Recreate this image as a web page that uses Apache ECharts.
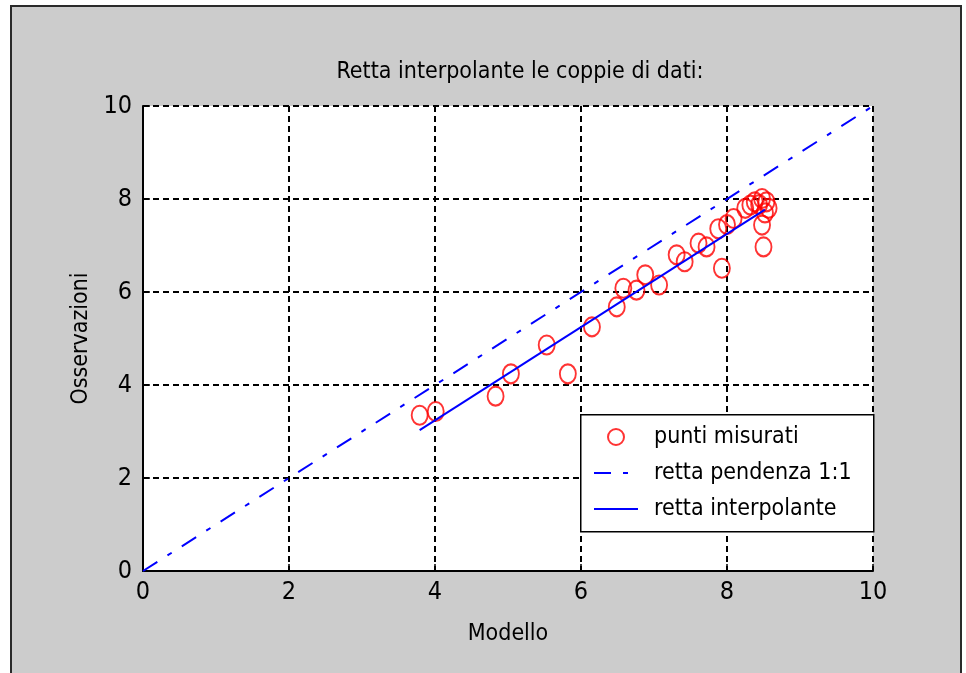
<!DOCTYPE html>
<html>
<head>
<meta charset="utf-8">
<script src="https://cdn.jsdelivr.net/npm/echarts@6/dist/echarts.min.js"></script>
<style>
  html, body { margin: 0; padding: 0; background: #ffffff; }
  #panel {
    position: absolute; left: 10px; top: 5px; width: 952px; height: 668px;
    background: #cccccc; border: 2px solid #2a2a2a; border-bottom: none;
    box-sizing: border-box;
  }
  #chart { position: absolute; left: 0; top: 0; width: 966px; height: 673px; }
</style>
</head>
<body>
<div id="panel"></div>
<div id="chart"></div>
<script>
// Measured pairs: model prediction vs. observation
const modelX = [3.79, 4.01, 4.83, 5.04, 5.53, 5.82, 6.15, 6.49, 6.58, 6.76,
                6.88, 7.07, 7.31, 7.42, 7.61, 7.72, 7.88, 7.93, 8.00, 8.09,
                8.25, 8.32, 8.38, 8.44, 8.48, 8.54, 8.57, 8.52, 8.48, 8.50];
const obsY   = [3.35, 3.43, 3.76, 4.24, 4.86, 4.24, 5.25, 5.68, 6.08, 6.04,
                6.37, 6.15, 6.80, 6.65, 7.05, 6.97, 7.36, 6.51, 7.45, 7.58,
                7.80, 7.87, 7.94, 7.88, 8.01, 7.94, 7.80, 7.70, 7.44, 6.97];

// Reference line with slope 1:1
const unitLineX = [0, 10];
const unitLineY = [0, 10];

// Least-squares line through the pairs (end points)
const fitX = [3.79, 8.52];
const fitY = [3.03, 7.77];

// Axis ticks (same on both axes)
const axisTicks = [0, 2, 4, 6, 8, 10];

const seriesNames = ['punti misurati', 'retta pendenza 1:1', 'retta interpolante'];
const titleText = 'Retta interpolante le coppie di dati:';

const FONT = "'Liberation Sans Narrow', 'DejaVu Sans Condensed', 'Liberation Sans', sans-serif";
const FS = 23;
const TICK_FS = 25;
const BLUE = '#0000ff';
const RED = '#ff0000';

const zip = (xs, ys) => xs.map((x, i) => [x, ys[i]]);

function valueAxis(name, nameGap, labelMargin) {
  return {
    type: 'value',
    min: axisTicks[0],
    max: axisTicks[axisTicks.length - 1],
    interval: axisTicks[1] - axisTicks[0],
    name: name,
    nameLocation: 'middle',
    nameGap: nameGap,
    nameTextStyle: { fontFamily: FONT, fontSize: FS, color: '#000' },
    axisLine: { show: true, onZero: false, lineStyle: { color: '#000', width: 2 } },
    axisTick: { show: true, inside: true, length: 7, lineStyle: { color: '#000', width: 1.5 } },
    axisLabel: { fontFamily: FONT, fontSize: TICK_FS, color: '#000', margin: labelMargin },
    splitLine: { show: true, lineStyle: { color: '#000', width: 2, type: [6, 4] } }
  };
}

const chart = echarts.init(document.getElementById('chart'), null, { renderer: 'canvas' });

chart.setOption({
  backgroundColor: 'transparent',
  animation: false,
  title: {
    text: titleText,
    left: 520,
    top: 61,
    padding: 0,
    textAlign: 'center',
    textStyle: { fontFamily: FONT, fontSize: FS, fontWeight: 'normal', color: '#000' }
  },
  grid: {
    left: 143, top: 106, right: 93, bottom: 102,
    show: true, backgroundColor: '#ffffff', borderWidth: 0
  },
  xAxis: valueAxis('Modello', 52, 9),
  yAxis: valueAxis('Osservazioni', 50, 11),
  legend: {
    orient: 'vertical',
    left: 593,
    top: 423,
    padding: 0,
    itemWidth: 44,
    itemHeight: 16,
    itemGap: 8,
    data: [
      { name: seriesNames[0] },
      { name: seriesNames[1], itemStyle: { opacity: 0 } },
      { name: seriesNames[2], itemStyle: { opacity: 0 } }
    ],
    textStyle: { fontFamily: FONT, fontSize: FS, lineHeight: 28, color: '#000', padding: [0, 0, 0, 11] },
    z: 10
  },
  graphic: [{
    type: 'rect',
    left: 580, top: 414, z: 8,
    shape: { width: 293, height: 117 },
    style: { fill: '#ffffff', stroke: '#000', lineWidth: 1.5 }
  }],
  series: [
    {
      name: seriesNames[0],
      type: 'scatter',
      data: zip(modelX, obsY),
      symbol: 'circle',
      symbolSize: [16, 19],
      itemStyle: { color: 'transparent', borderColor: RED, borderWidth: 2 },
      z: 3
    },
    {
      name: seriesNames[1],
      type: 'line',
      data: zip(unitLineX, unitLineY),
      symbol: 'none',
      itemStyle: { color: BLUE },
      lineStyle: { color: BLUE, width: 2, type: [17, 12, 5, 12] },
      z: 2
    },
    {
      name: seriesNames[2],
      type: 'line',
      data: zip(fitX, fitY),
      symbol: 'none',
      itemStyle: { color: BLUE },
      lineStyle: { color: BLUE, width: 2, type: 'solid' },
      z: 4
    }
  ]
});
</script>
</body>
</html>
